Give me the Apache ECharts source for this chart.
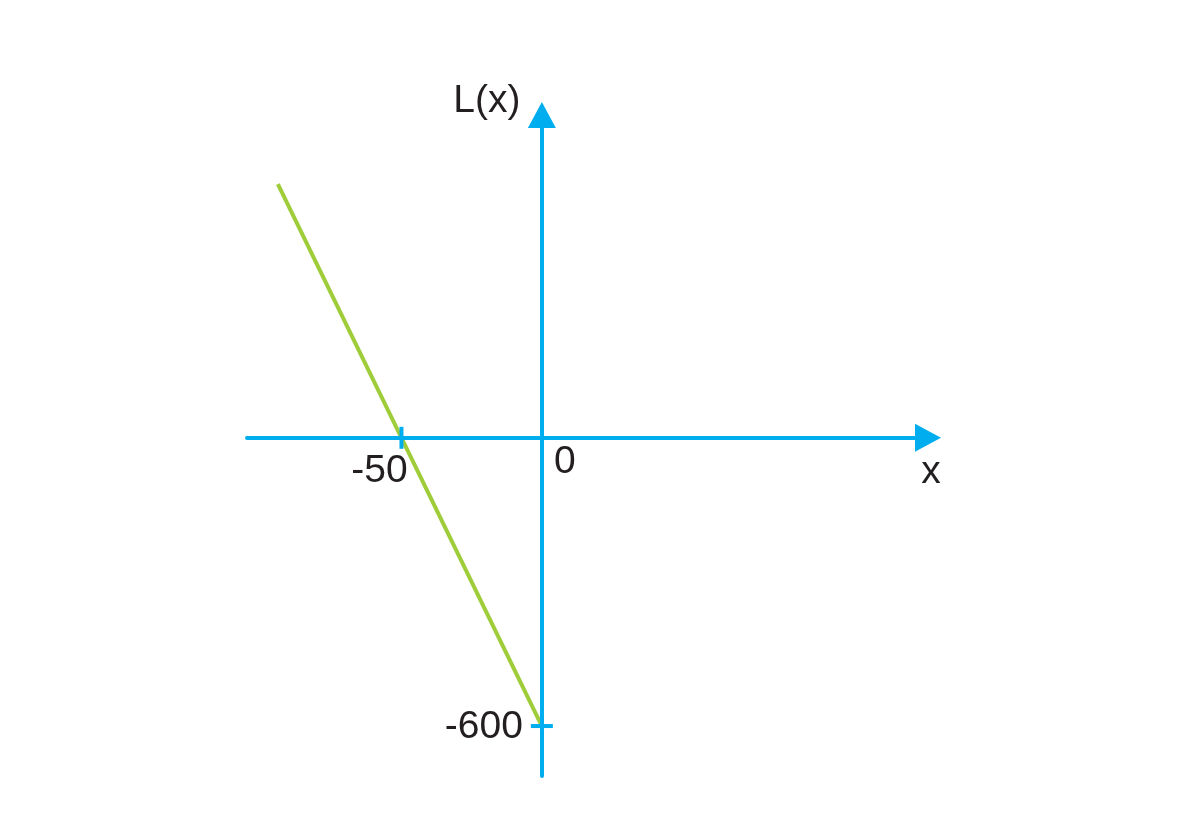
<!DOCTYPE html>
<html>
<head>
<meta charset="utf-8">
<script src="https://cdn.jsdelivr.net/npm/echarts@6/dist/echarts.min.js"></script>
<style>
html, body { margin: 0; padding: 0; background: #fff; }
#echarts { width: 1202px; height: 815px; }
</style>
</head>
<body>
<div id="echarts"></div>
<script>
// axis ranges (data units)
var xMin = -105, xMax = 137.5;
var yMin = -704, yMax = 672;

// L(x) line: endpoints
var lineX = [-94, 0];
var lineL = [528, -600];

// marked points on the axes
var xTicks = [-50];
var yTicks = [-600];

var blue = '#00aeef';
var green = '#9fcd3a';
var ink = '#231f20';

var lineData = lineX.map(function (x, i) { return [x, lineL[i]]; });

// labels on the axes, offset from their anchor points
function lbl(x, y, text, off) {
    return { value: [x, y], label: { formatter: text, offset: off } };
}
var labelData = [
    lbl(xTicks[0], 0, String(xTicks[0]), [-22, 33]),
    lbl(0, 0, '0', [23, 24]),
    lbl(0, yTicks[0], String(yTicks[0]), [-58, 1]),
    lbl(xMax, 0, 'x', [3, 34]),
    lbl(0, yMax, 'L(x)', [-55, -14])
];

var axisCommon = {
    type: 'value',
    z: 5,
    axisLine: {
        onZero: true,
        symbol: ['none', 'triangle'],
        symbolSize: [28, 26],
        lineStyle: { color: blue, width: 4 }
    },
    axisTick: { show: false },
    axisLabel: { show: false },
    splitLine: { show: false }
};

var myChart = echarts.init(document.getElementById('echarts'));
var option = {
    animation: false,
    backgroundColor: '#fff',
    grid: { left: 247, right: 274, top: 115, bottom: 39 },
    xAxis: Object.assign({}, axisCommon, { min: xMin, max: xMax }),
    yAxis: Object.assign({}, axisCommon, { min: yMin, max: yMax }),
    series: [
        {
            type: 'line',
            data: lineData,
            z: 2,
            clip: false,
            showSymbol: false,
            silent: true,
            lineStyle: { color: green, width: 4 }
        },
        {
            // x-axis tick
            type: 'scatter',
            z: 6,
            silent: true,
            symbol: 'rect',
            symbolSize: [4, 22],
            itemStyle: { color: blue, opacity: 1 },
            data: xTicks.map(function (v) { return [v, 0]; })
        },
        {
            // y-axis tick
            type: 'scatter',
            z: 6,
            silent: true,
            symbol: 'rect',
            symbolSize: [22, 4],
            itemStyle: { color: blue, opacity: 1 },
            data: yTicks.map(function (v) { return [0, v]; })
        },
        {
            type: 'scatter',
            z: 7,
            silent: true,
            symbolSize: 0,
            itemStyle: { opacity: 1 },
            label: {
                show: true,
                position: 'inside',
                align: 'center',
                verticalAlign: 'middle',
                color: ink,
                opacity: 1,
                fontSize: 39,
                fontFamily: 'Liberation Sans'
            },
            data: labelData
        }
    ]
};
myChart.setOption(option);
</script>
</body>
</html>
